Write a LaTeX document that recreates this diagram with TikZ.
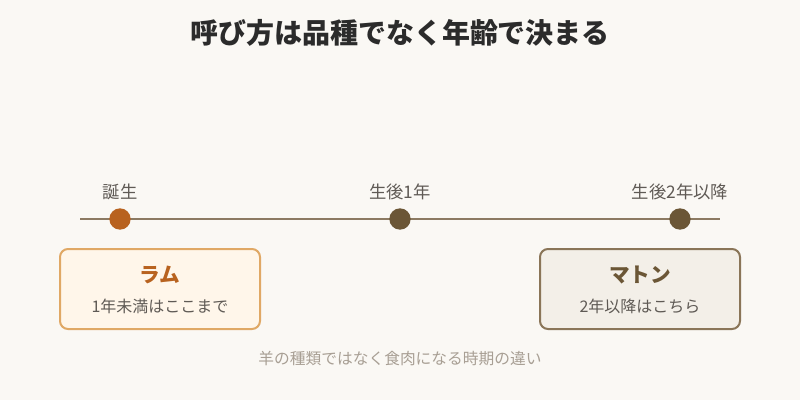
\documentclass[tikz,border=0pt]{standalone}
\usepackage{fontspec}
\setmainfont{Noto Sans CJK JP}
\definecolor{bgcol}{HTML}{FAF8F4}
\definecolor{titlecol}{HTML}{2B2B2B}
\definecolor{linecol}{HTML}{8C7A62}
\definecolor{lambcol}{HTML}{B8621F}
\definecolor{muttoncol}{HTML}{6B5636}
\definecolor{labelcol}{HTML}{5F5A55}
\definecolor{lambfill}{HTML}{FFF6EA}
\definecolor{lambedge}{HTML}{E0A865}
\definecolor{muttonfill}{HTML}{F3EFE8}
\definecolor{muttonedge}{HTML}{8A7558}
\definecolor{notecol}{HTML}{A89F94}
\tikzset{
  dot/.style={circle, inner sep=0pt, minimum size=16},
  ticklabel/.style={text=labelcol, font=\fontsize{13}{15}\selectfont},
  agebox/.style={rounded corners=6pt, line width=1.5pt, minimum width=150pt, minimum height=60pt},
  boxtitle/.style={font=\bfseries\fontsize{15.5}{18}\selectfont},
  boxnote/.style={text=labelcol, font=\fontsize{12}{14}\selectfont}
}
\begin{document}
\begin{tikzpicture}[x=0.75pt, y=-0.75pt]
                \fill[bgcol] (0, 0) rectangle (800, 400);
                \useasboundingbox (0, 0) rectangle (800, 400);
                
                \node[text=titlecol, font=\bfseries\fontsize{21}{25}\selectfont] (title) at (400, 33) {呼び方は品種でなく年齢で決まる};
                
                % timeline
                \coordinate (start) at (80, 219);
                \coordinate (end) at (720, 219);
                \draw[linecol, line width=2.2pt] (start) -- (end);
                
                \node[dot, fill=lambcol] (birth) at (120, 219) {};
                \node[dot, fill=muttoncol] (one) at (400, 219) {};
                \node[dot, fill=muttoncol] (two) at (680, 219) {};
                
                \node[ticklabel] (birthlabel) at (120, 192) {誕生};
                \node[ticklabel] (onelabel) at (400, 192) {生後1年};
                \node[ticklabel] (twolabel) at (680, 192) {生後2年以降};
                
                % boxes
                \node[agebox, draw=lambedge, fill=lambfill] (lamb) at (160, 289) {};
                \node[boxtitle, text=lambcol] (lambname) at (160, 275) {ラム};
                \node[boxnote] (lambnote) at (160, 306) {1年未満はここまで};
                
                \node[agebox, draw=muttonedge, fill=muttonfill] (mutton) at (640, 289) {};
                \node[boxtitle, text=muttoncol] (muttonname) at (640, 275) {マトン};
                \node[boxnote] (muttonnote) at (640, 306) {2年以降はこちら};
                
                \node[text=notecol, font=\fontsize{11.8}{14}\selectfont] (note) at (400, 359) {羊の種類ではなく食肉になる時期の違い};
            \end{tikzpicture}
\end{document}
